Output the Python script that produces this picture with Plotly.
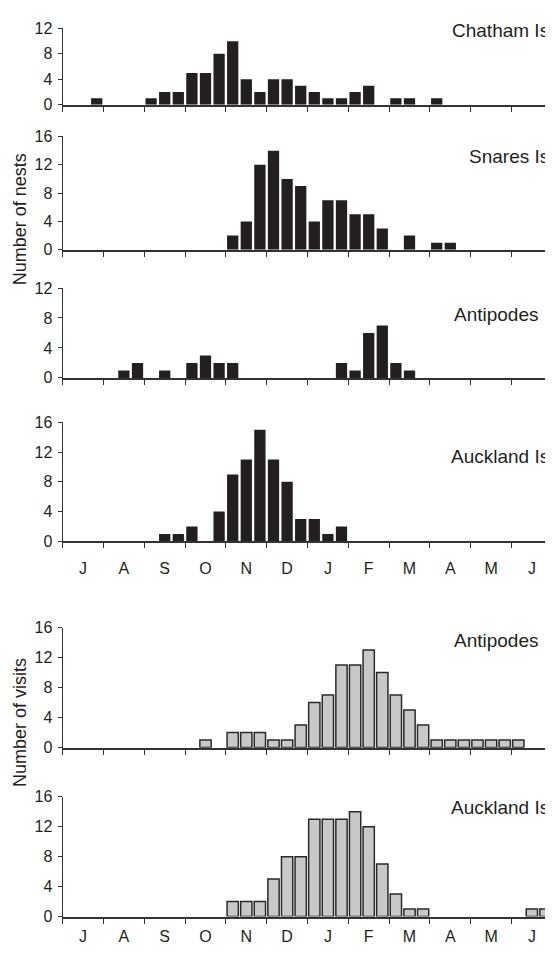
import plotly.graph_objects as go

# 36 ten-day periods, July to June
months = ["J", "A", "S", "O", "N", "D", "J", "F", "M", "A", "M", "J"]
periods = list(range(36))

chatham_nests = [0, 0, 1, 0, 0, 0, 1, 2, 2, 5, 5, 8, 10, 4, 2, 4, 4, 3,
                 2, 1, 1, 2, 3, 0, 1, 1, 0, 1, 0, 0, 0, 0, 0, 0, 0, 0]
snares_nests = [0, 0, 0, 0, 0, 0, 0, 0, 0, 0, 0, 0, 2, 4, 12, 14, 10, 9,
                4, 7, 7, 5, 5, 3, 0, 2, 0, 1, 1, 0, 0, 0, 0, 0, 0, 0]
antipodes_nests = [0, 0, 0, 0, 1, 2, 0, 1, 0, 2, 3, 2, 2, 0, 0, 0, 0, 0,
                   0, 0, 2, 1, 6, 7, 2, 1, 0, 0, 0, 0, 0, 0, 0, 0, 0, 0]
auckland_nests = [0, 0, 0, 0, 0, 0, 0, 1, 1, 2, 0, 4, 9, 11, 15, 11, 8, 3,
                  3, 1, 2, 0, 0, 0, 0, 0, 0, 0, 0, 0, 0, 0, 0, 0, 0, 0]
antipodes_visits = [0, 0, 0, 0, 0, 0, 0, 0, 0, 0, 1, 0, 2, 2, 2, 1, 1, 3,
                    6, 7, 11, 11, 13, 10, 7, 5, 3, 1, 1, 1, 1, 1, 1, 1, 0, 0]
auckland_visits = [0, 0, 0, 0, 0, 0, 0, 0, 0, 0, 0, 0, 2, 2, 2, 5, 8, 8,
                   13, 13, 13, 14, 12, 7, 3, 1, 1, 0, 0, 0, 0, 0, 0, 0, 1, 1]

panels = [
    ("Chatham Is", chatham_nests, 12, "nest", 11.7),
    ("Snares Is", snares_nests, 16, "nest", 13.2),
    ("Antipodes I", antipodes_nests, 12, "nest", 8.4),
    ("Auckland Is", auckland_nests, 16, "nest", 11.4),
    ("Antipodes I", antipodes_visits, 16, "visit", 14.3),
    ("Auckland Is", auckland_visits, 16, "visit", 14.5),
]

# page body has an 8px margin: figure is drawn at offset (8, 8)
OFF = 8
W, H = 553 - OFF, 955 - OFF
# panel vertical extents in reference pixels (top, bottom)
pix = [(20.7, 98.3), (130.7, 246.0), (285.0, 376.5), (421.7, 543.0),
       (630.7, 753.0), (803.0, 925.0)]
x_dom = [(62.7 - OFF) / W, (552.3 - OFF) / W]

FONT = "Liberation Sans, Arial, sans-serif"
TXT = "#231f20"
AX = "#333333"

fig = go.Figure()
layout = dict(
    width=W, height=H, autosize=False,
    margin=dict(l=0, r=0, t=0, b=0),
    paper_bgcolor="white", plot_bgcolor="white",
    showlegend=False, bargap=0.17,
    font=dict(family=FONT, color=TXT, size=16),
)
annotations = []
month_centers = [3 * k + 1 for k in range(12)]
boundaries = [3 * k - 0.5 for k in range(13)]

for i, (name, vals, ymax, kind, ylab) in enumerate(panels):
    n = i + 1
    xa = "x" if n == 1 else f"x{n}"
    ya = "y" if n == 1 else f"y{n}"
    if kind == "nest":
        marker = dict(color="#231f20", line=dict(width=0))
    else:
        marker = dict(color="#c8c8c8", line=dict(color="#2a2a2a", width=1.5))
    yv = [v if v else None for v in vals]
    fig.add_trace(go.Bar(x=periods, y=yv, marker=marker, xaxis=xa, yaxis=ya))
    top, bot = pix[i]
    show_months = n in (4, 6)
    layout[f"xaxis{'' if n == 1 else n}"] = dict(
        domain=x_dom, anchor=ya, range=[-0.5, 35.5],
        showgrid=False, zeroline=False,
        showline=True, linecolor=AX, linewidth=2,
        tickmode="array", tickvals=month_centers,
        ticktext=months if show_months else [""] * 12,
        showticklabels=show_months,
        ticks="", ticklabelstandoff=11 if n == 4 else 4,
        tickfont=dict(family=FONT, size=16, color=TXT),
        minor=dict(tickmode="array", tickvals=boundaries, ticks="outside",
                   ticklen=5, tickwidth=1, tickcolor=AX, showgrid=False),
        fixedrange=True,
    )
    layout[f"yaxis{'' if n == 1 else n}"] = dict(
        domain=[1 - (bot - OFF) / H, 1 - (top - OFF) / H], anchor=xa,
        range=[0, ymax],
        tickmode="array", tickvals=list(range(0, ymax + 1, 4)),
        showgrid=False, zeroline=False,
        showline=True, linecolor=AX, linewidth=1.2,
        ticks="outside", ticklen=4, tickwidth=1, tickcolor=AX,
        ticklabelstandoff=2,
        tickfont=dict(family=FONT, size=16, color=TXT),
        fixedrange=True,
    )
    annotations.append(dict(
        text=name, xref="paper", yref=ya, x=(551 - OFF) / W, y=ylab,
        xanchor="right", yanchor="middle", showarrow=False,
        font=dict(family=FONT, size=19, color=TXT),
    ))

for title, yc in (("Number of nests", 215), ("Number of visits", 728)):
    annotations.append(dict(
        text=title, xref="paper", yref="paper",
        x=0, y=1 - (yc - OFF) / H, textangle=-90,
        showarrow=False, xanchor="left", yanchor="middle",
        font=dict(family=FONT, size=18, color=TXT),
    ))
layout["annotations"] = annotations
fig.update_layout(**layout)
fig.write_html("out.html")
